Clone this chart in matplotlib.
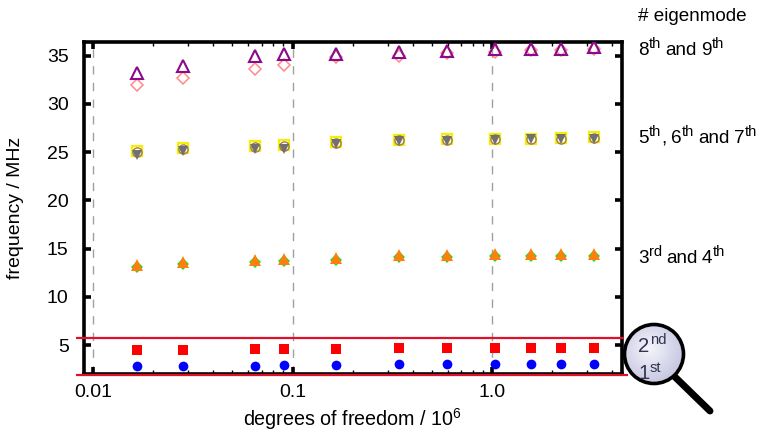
import numpy as np
import matplotlib
matplotlib.use("Agg")
import matplotlib.pyplot as plt
from matplotlib.patches import Circle
from matplotlib.lines import Line2D
from matplotlib.ticker import FixedLocator, FixedFormatter, NullFormatter

plt.rcParams['font.family'] = ['Liberation Sans', 'DejaVu Sans']
plt.rcParams['mathtext.fontset'] = 'custom'
plt.rcParams['mathtext.rm'] = 'Liberation Sans'
plt.rcParams['mathtext.default'] = 'rm'

W, H = 769, 432
dof = [0.0167, 0.0284, 0.0645, 0.091, 0.166, 0.34, 0.598, 1.04, 1.56, 2.23, 3.23]
mode1 = [2.8, 2.8, 2.8, 2.9, 2.9, 3.0, 3.0, 3.0, 3.0, 3.0, 3.0]
mode2 = [4.5, 4.5, 4.6, 4.6, 4.6, 4.7, 4.7, 4.7, 4.7, 4.7, 4.7]
mode3 = [13.3, 13.6, 13.8, 13.9, 14.0, 14.3, 14.3, 14.4, 14.4, 14.4, 14.4]
mode4 = [13.1, 13.4, 13.6, 13.7, 13.8, 14.1, 14.1, 14.2, 14.2, 14.2, 14.2]
mode5 = [24.7, 25.1, 25.3, 25.3, 25.8, 26.1, 26.1, 26.2, 26.3, 26.3, 26.4]
mode6 = [25.0, 25.3, 25.5, 25.6, 25.9, 26.2, 26.2, 26.3, 26.4, 26.4, 26.5]
mode7 = [25.1, 25.4, 25.6, 25.7, 26.0, 26.2, 26.3, 26.4, 26.4, 26.5, 26.6]
mode8 = [31.9, 32.7, 33.6, 34.0, 34.8, 35.0, 35.3, 35.4, 35.6, 35.6, 35.7]
mode9 = [33.2, 33.9, 34.9, 35.2, 35.2, 35.4, 35.5, 35.7, 35.7, 35.7, 35.9]
decades = [0.01, 0.1, 1.0]
xticklabels = ['0.01', '0.1', '1.0']
yticks = [5, 10, 15, 20, 25, 30, 35]

fig = plt.figure(figsize=(W / 100, H / 100), dpi=100)
L, R, T, B = 84, 622, 42, 374
ax = fig.add_axes([L / W, 1 - B / H, (R - L) / W, (B - T) / H])
ax.set_xscale('log')
ax.set_xlim(10 ** (-2 - 9 / 199.5), 10 ** (130 / 199.5))
ax.set_ylim(2.0, 36.4)

for d in decades:
    ax.axvline(d, color='#a0a0a0', lw=1, dashes=(6, 6), zorder=1)

ax.plot(dof, mode8, ls='', marker='D', ms=6, mfc='none', mec='#ff8a8a', mew=1.1, zorder=3)
ax.plot(dof, mode9, ls='', marker='^', ms=8.5, mfc='none', mec='#8b0a8b', mew=1.5, zorder=4)
ax.plot(dof, mode7, ls='', marker='s', ms=7.5, mfc='white', mec='#f4f000', mew=1.6, zorder=3)
ax.plot(dof, mode6, ls='', marker='o', ms=6.6, mfc='none', mec='#a57a50', mew=1.0, zorder=3.5)
ax.plot(dof, mode5, ls='', marker='v', ms=7.5, color='#707070', mew=0, zorder=4)
ax.plot(dof, mode4, ls='', marker='D', ms=6.5, color='#22dd22', mew=0, zorder=3)
ax.plot(dof, mode3, ls='', marker='^', ms=9, color='#ff7f0e', mew=0, zorder=4)
ax.plot(dof, mode2, ls='', marker='s', ms=7, color='#ff0000', mew=0, zorder=3)
ax.plot(dof, mode1, ls='', marker='o', ms=7, color='#0000ff', mew=0, zorder=3)

for s in ax.spines.values():
    s.set_linewidth(2.6)
ax.xaxis.set_major_locator(FixedLocator(decades))
ax.xaxis.set_major_formatter(FixedFormatter(xticklabels))
ax.xaxis.set_minor_formatter(NullFormatter())
ax.set_yticks(yticks)
ax.tick_params(axis='both', which='major', direction='in', length=5, width=2.6, top=True, right=True, labelsize=14, colors='black')
ax.tick_params(axis='x', which='major', pad=7)
ax.tick_params(axis='y', which='major', pad=11)
ax.tick_params(axis='x', which='minor', direction='in', length=3, width=1, top=True)
ax.set_xlabel('degrees of freedom / $10^{6}$', fontsize=14.2)
ax.xaxis.set_label_coords((353 - L) / (R - L), (B - 406) / (B - T), transform=ax.transAxes)
ax.set_ylabel('frequency / MHz', fontsize=14)
ax.yaxis.set_label_coords((24 - L) / (R - L), 0.5, transform=ax.transAxes)

# overlay in pixel coordinates
ov = fig.add_axes([0, 0, 1, 1], zorder=10)
ov.set_xlim(0, W)
ov.set_ylim(H, 0)
ov.axis('off')
ov.patch.set_alpha(0)
for y, x0, x1 in [(337.5, 76, 624), (375, 76, 628)]:
    ov.add_line(Line2D([x0, x1], [y, y], color='#e0102a', lw=1.6, solid_capstyle='butt'))

renderer = fig.canvas.get_renderer()


def rich(x, y, pieces, size=13.6, sup=10.5, raise_px=7, color='black', z=14):
    # pieces: (text, is_superscript, gap after in px)
    for s, is_sup, gap in pieces:
        t = ov.text(x, y - (raise_px if is_sup else 0), s, fontsize=sup if is_sup else size,
                    va='baseline', ha='left', color=color, zorder=z)
        x = t.get_window_extent(renderer).x1 + gap


sp = 4
ov.text(638, 21, '# eigenmode', fontsize=13.6, va='baseline', ha='left')
rich(638, 55, [('8', 0, 0.5), ('th', 1, sp), ('and', 0, sp), ('9', 0, 0.5), ('th', 1, 0)])
rich(638, 143, [('5', 0, 0.5), ('th', 1, 0.5), (',', 0, sp), ('6', 0, 0.5), ('th', 1, sp),
                ('and', 0, sp), ('7', 0, 0.5), ('th', 1, 0)])
rich(638, 263, [('3', 0, 0.5), ('rd', 1, sp), ('and', 0, sp), ('4', 0, 0.5), ('th', 1, 0)])

# magnifier
cx, cy, r = 654, 354, 29.5
ov.add_line(Line2D([cx + 20, 710], [cy + 22, 411], color='black', lw=5, solid_capstyle='round', zorder=11))
yy, xx = np.mgrid[0:1:100j, 0:1:100j]
g = np.clip(np.hypot(xx - 0.42, yy - 0.42) / 0.72, 0, 1)
inner = np.array([0.96, 0.96, 0.99])
outer = np.array([0.74, 0.74, 0.86])
img = inner + (outer - inner) * g[..., None]
im = ov.imshow(img, extent=(cx - r, cx + r, cy + r, cy - r), zorder=12, aspect='auto')
im.set_clip_path(Circle((cx, cy), r, transform=ov.transData))
ov.add_patch(Circle((cx, cy), r, fc='none', ec='black', lw=2.6, zorder=13))
ov.set_xlim(0, W)
ov.set_ylim(H, 0)
rich(638, 352, [('2', 0, 0.5), ('nd', 1, 0)], size=14.6, sup=10.6, raise_px=8, color='#333350')
rich(638, 379, [('1', 0, 0.5), ('st', 1, 0)], size=14.6, sup=10.6, raise_px=7, color='#333350')

fig.savefig('out.png', dpi=100)
